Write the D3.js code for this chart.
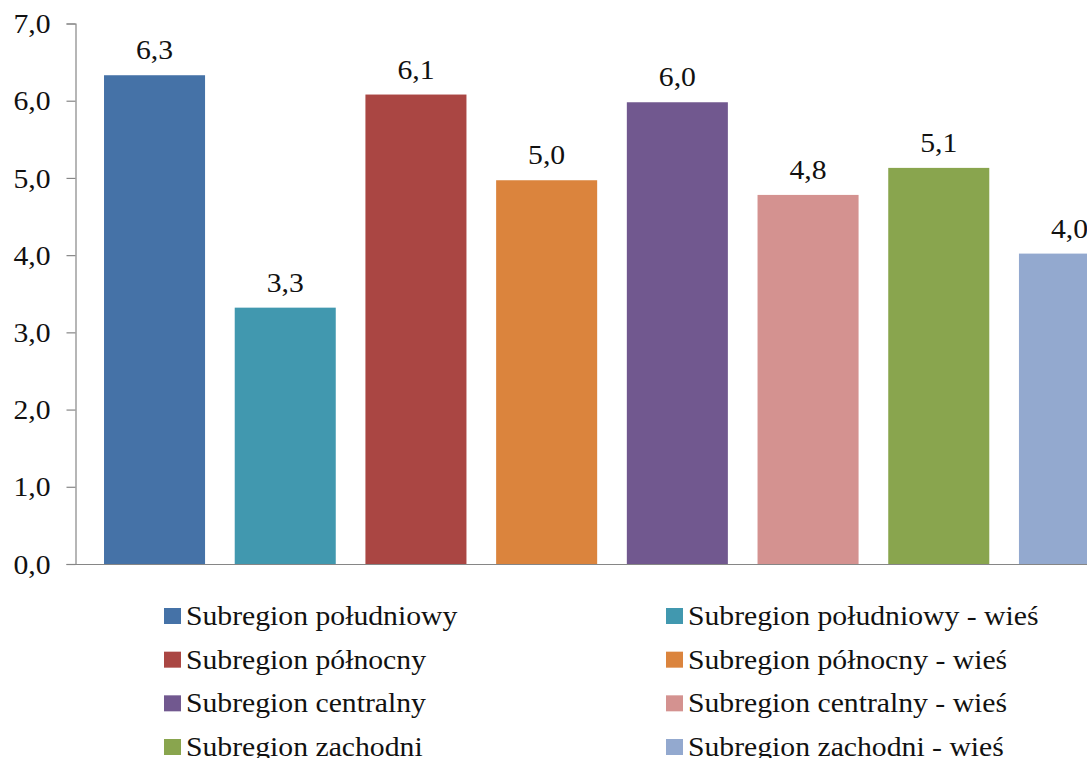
<!DOCTYPE html>
<html><head><meta charset="utf-8">
<script src="https://cdn.jsdelivr.net/npm/d3@7"></script>
<style>body{margin:0;background:#fff;}svg{display:block;} svg#c text{font-family:'Liberation Serif' !important;}</style>
</head><body>
<svg id="c" width="1087" height="758"></svg>
<script>
const categories = ["Subregion południowy","Subregion południowy - wieś","Subregion północny","Subregion północny - wieś","Subregion centralny","Subregion centralny - wieś","Subregion zachodni","Subregion zachodni - wieś"];
const values = [6.33, 3.32, 6.08, 4.97, 5.98, 4.78, 5.13, 4.02];
const labels = ["6,3","3,3","6,1","5,0","6,0","4,8","5,1","4,0"];
const colors = ["#4572A7","#4198AF","#AA4643","#DB843D","#71588F","#D49290","#89A54E","#93A9CF"];
const yTicks = [0,1,2,3,4,5,6,7];

const FONT = "Liberation Serif";
const svg = d3.select("#c");
const x = d3.scaleBand().domain(categories).range([75, 1149]).paddingInner(0.227).paddingOuter(0.222);
const y = d3.scaleLinear().domain([0,7]).range([564, 23.5]);
const fmt = d => d.toFixed(1).replace(".", ",");
const SX = 1.1; // horizontal stretch of the reference text

function serif(sel) {
  return sel.attr("font-family", FONT).attr("font-size", 27)
    .style("font-family", FONT, "important").style("font-size", "27px");
}

const yAxis = svg.append("g").attr("transform","translate(75.5,0)")
  .call(d3.axisLeft(y).tickValues(yTicks).tickFormat(fmt).tickSize(9).tickPadding(16));
yAxis.attr("font-family", FONT).attr("font-size", 27);
yAxis.select(".domain").attr("stroke","#868686").attr("stroke-width",1.2);
yAxis.selectAll(".tick line").attr("stroke","#868686").attr("stroke-width",1.2);
serif(yAxis.selectAll(".tick text")).attr("fill","#111").attr("dy","0.34em")
  .attr("transform",`translate(-25,0) scale(${SX},1)`).attr("x",0);

svg.append("line").attr("x1",75).attr("x2",1087).attr("y1",y(0)+0.5).attr("y2",y(0)+0.5)
  .attr("stroke","#868686").attr("stroke-width",1.2);

svg.selectAll("rect.bar").data(categories).enter().append("rect").attr("class","bar")
  .attr("x", d => x(d)).attr("width", x.bandwidth())
  .attr("y", (d,i) => y(values[i])).attr("height", (d,i) => y(0) - y(values[i]))
  .attr("fill", (d,i) => colors[i]);

serif(svg.selectAll("text.lab").data(categories).enter().append("text").attr("class","lab"))
  .attr("transform", (d,i) => `translate(${x(d) + x.bandwidth()/2},${y(values[i]) - 16}) scale(${SX},1)`)
  .attr("text-anchor","middle").attr("fill","#111")
  .text((d,i) => labels[i]);

const legCols = [164, 666];
const legRow = d3.scaleLinear().domain([0,3]).range([616, 747]);
const leg = svg.selectAll("g.leg").data(categories).enter().append("g").attr("class","leg")
  .attr("transform", (d,i) => `translate(${legCols[i%2]},${legRow(Math.floor(i/2))})`);
leg.append("rect").attr("x",0).attr("y",-8).attr("width",17).attr("height",16).attr("fill",(d,i)=>colors[i]);
serif(leg.append("text")).attr("transform",`translate(22,9) scale(${SX},1)`).attr("fill","#111").text(d=>d);
</script>
</body></html>
